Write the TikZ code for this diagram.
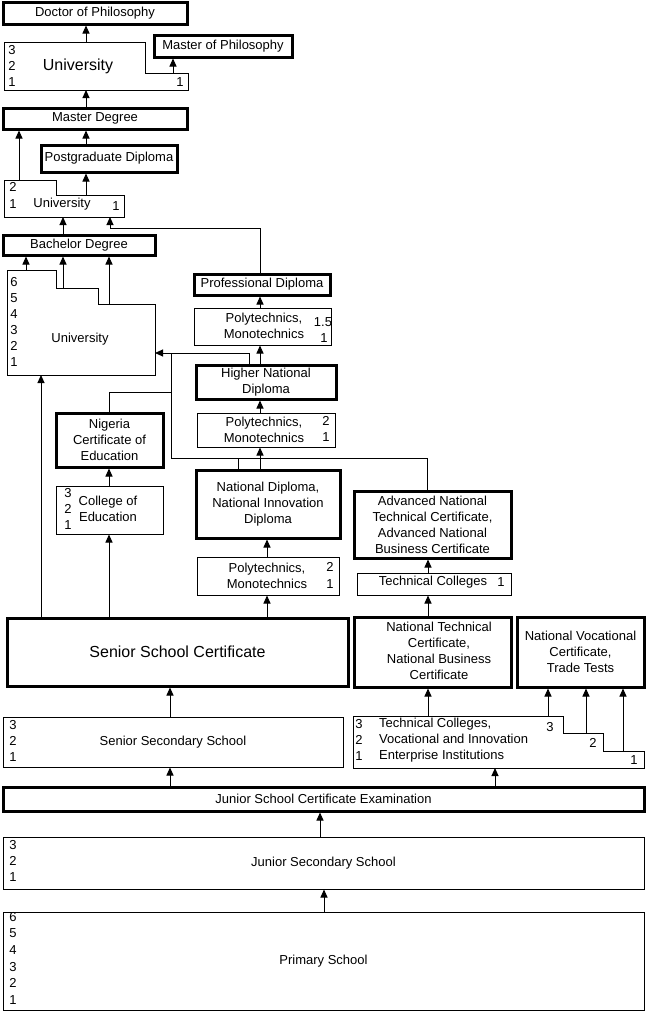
\documentclass[tikz,border=0pt]{standalone}
\usepackage{fontspec}
\setmainfont{Liberation Sans}
\usetikzlibrary{arrows.meta}
\newcommand\mybox[7]{\node[#1, minimum width={#5-#3}, minimum height={#6-#4}] (#2) at ({(#3+#5)/2},{(#4+#6)/2}) {#7};}
\begin{document}
\begin{tikzpicture}[x=1pt,y=-1pt,
  font=\fontsize{13}{16}\selectfont,
  bxn/.style={draw, line width=1pt, inner sep=0pt, align=center},
  bxk/.style={draw, line width=3pt, inner sep=0pt, align=center},
  arr/.style={line width=1pt, -{Triangle[length=8pt,width=7pt]}},
  ln/.style={line width=1pt},
  lbl/.style={inner sep=0pt, align=center},
  big/.style={font=\fontsize{16}{19}\selectfont}]
\fill[white] (0,0) rectangle (648,1012);
\useasboundingbox (0,0) rectangle (648,1012);

% ---------- boxes ----------
\mybox{bxk}{phd}{3}{2}{187}{24}{Doctor of Philosophy}
\mybox{bxk}{mphil}{154}{35}{292}{57}{Master of Philosophy}
\mybox{bxk}{md}{3}{108}{187}{129}{Master Degree}
\mybox{bxk}{pgd}{41}{145}{177}{172}{Postgraduate Diploma}
\mybox{bxk}{bd}{3}{235}{155}{255}{Bachelor Degree}
\mybox{bxk}{prof}{194}{274}{330}{295}{Professional Diploma}
\mybox{bxn}{poly1}{194}{308}{331}{345}{}
\mybox{bxk}{hnd}{196}{365}{336}{399}{Higher National\\Diploma}
\mybox{bxn}{poly2}{197}{413}{335}{447}{}
\mybox{bxk}{nce}{56}{413}{163}{467}{Nigeria\\Certificate of\\Education}
\mybox{bxn}{coe}{56}{486}{163}{534}{}
\mybox{bxk}{nd}{196}{470}{340}{538}{National Diploma,\\National Innovation\\Diploma}
\mybox{bxn}{poly3}{197}{557}{339}{595}{}
\mybox{bxk}{atc}{354}{491}{511}{558}{Advanced National\\Technical Certificate,\\Advanced National\\Business Certificate}
\mybox{bxn}{tc}{357}{573}{511}{595}{}
\mybox{bxk}{ssc}{7}{618}{348}{686}{\fontsize{16}{19}\selectfont Senior School Certificate}
\mybox{bxk}{ntc}{354}{617}{511}{687}{}
\mybox{bxk}{nvc}{517}{617}{644}{687}{National Vocational\\Certificate,\\Trade Tests}
\mybox{bxn}{sss}{3}{717}{343}{767}{Senior Secondary School}
\mybox{bxk}{jsce}{3}{787}{644}{811}{Junior School Certificate Examination}
\mybox{bxn}{jss}{3}{837}{644}{889}{Junior Secondary School}
\mybox{bxn}{prim}{3}{912}{644}{1010}{Primary School}

% ---------- irregular boxes ----------
\draw[ln] (4,42) coordinate (u1a) -- (145,42) -- (145,73) coordinate (u1s) -- (188,73) -- (188,90) coordinate (u1c) -- (4,90) -- cycle;
\draw[ln] (4,180) coordinate (u2a) -- (56,180) -- (56,195) coordinate (u2s) -- (124,195) -- (124,217) coordinate (u2c) -- (4,217) -- cycle;
\draw[ln] (7,270) coordinate (u3a) -- (56,270) -- (56,288) coordinate (u3s1) -- (98,288) -- (98,304) coordinate (u3s2) -- (155,304) -- (155,375) coordinate (u3b) -- (7,375) -- cycle;
\draw[ln] (353,716) coordinate (tvetop) -- (563,716) -- (563,733) coordinate (tves1) -- (603,733) -- (603,751) coordinate (tves2) -- (644,751) -- (644,768) coordinate (tvebot) -- (353,768) -- cycle;
\coordinate (u3r) at (155,353);
\coordinate (j1) at (110,228);
\coordinate (b1) at (171,458);
\coordinate (b2) at (171,392);

% ---------- labels ----------
\node[lbl] (u1n3) at (12,50) {3};
\node[lbl] (u1n2) at (12,66) {2};
\node[lbl] (u1n1) at (12,82) {1};
\node[lbl,big] (u1t) at (78,66) {University};
\node[lbl] (u1r) at (180,82) {1};

\node[lbl] (u2n2) at (13,187) {2};
\node[lbl] (u2n1) at (13,204) {1};
\node[lbl] (u2t) at (62,204) {University};
\node[lbl] (u2r) at (116,206) {1};

\node[lbl] (u3n6) at (14,282) {6};
\node[lbl] (u3n5) at (14,298) {5};
\node[lbl] (u3n4) at (14,314) {4};
\node[lbl] (u3n3) at (14,330) {3};
\node[lbl] (u3n2) at (14,346) {2};
\node[lbl] (u3n1) at (14,362) {1};
\node[lbl] (u3t) at (80,339) {University};

\node[lbl] (p1t) at (264,326) {Polytechnics,\\Monotechnics};
\node[lbl] (p1a) at (323,322) {1.5};
\node[lbl] (p1b) at (324,338) {1};
\node[lbl] (p2t) at (264,430) {Polytechnics,\\Monotechnics};
\node[lbl] (p2a) at (326,421) {2};
\node[lbl] (p2b) at (326,437) {1};
\node[lbl] (p3t) at (267,576) {Polytechnics,\\Monotechnics};
\node[lbl] (p3a) at (330,567) {2};
\node[lbl] (p3b) at (330,584) {1};

\node[lbl] (c3) at (68,493) {3};
\node[lbl] (c2) at (68,509) {2};
\node[lbl] (c1) at (68,525) {1};
\node[lbl] (ct) at (108,509) {College of\\Education};

\node[lbl] (tct) at (433,582) {Technical Colleges};
\node[lbl] (tcn) at (501,582) {1};
\node[lbl] (ntct) at (439,651) {National Technical\\Certificate,\\National Business\\Certificate};

\node[lbl] (tv3) at (359,724) {3};
\node[lbl] (tv2) at (359,740) {2};
\node[lbl] (tv1) at (359,756) {1};
\node[lbl, anchor=west, align=left] (tvt) at (379,740) {Technical Colleges,\\Vocational and Innovation\\Enterprise Institutions};
\node[lbl] (tr3) at (550,727) {3};
\node[lbl] (tr2) at (593,743) {2};
\node[lbl] (tr1) at (634,760) {1};

\node[lbl] (s3) at (13,725) {3};
\node[lbl] (s2) at (13,741) {2};
\node[lbl] (s1) at (13,757) {1};
\node[lbl] (j3) at (13,845) {3};
\node[lbl] (j2) at (13,861) {2};
\node[lbl] (jn1) at (13,877) {1};
\node[lbl] (pr6) at (13,917) {6};
\node[lbl] (pr5) at (13,933) {5};
\node[lbl] (pr4) at (13,950) {4};
\node[lbl] (pr3) at (13,967) {3};
\node[lbl] (pr2) at (13,983) {2};
\node[lbl] (pr1) at (13,1000) {1};

% ---------- connectors ----------
\draw[arr] (u1a -| 86,0) -- (phd.south -| 86,0);
\draw[arr] (u1s -| 173,0) -- (mphil.south -| 173,0);
\draw[arr] (md.north -| 86,0) -- (u1c -| 86,0);
\draw[arr] (pgd.north -| 86,0) -- (md.south -| 86,0);
\draw[arr] (u2a -| 19,0) -- (md.south -| 19,0);
\draw[arr] (u2s -| 86,0) -- (pgd.south -| 86,0);
\draw[arr] (bd.north -| 63,0) -- (u2c -| 63,0);
\draw[arr] (prof.north -| 260,0) |- (j1) -- (u2c -| j1);
\draw[arr] (u3a -| 26,0) -- (bd.south -| 26,0);
\draw[arr] (u3s1 -| 63,0) -- (bd.south -| 63,0);
\draw[arr] (u3s2 -| 109,0) -- (bd.south -| 109,0);
\draw[arr] (poly1.north -| 260,0) -- (prof.south -| 260,0);
\draw[arr] (hnd.north -| 260,0) -- (poly1.south -| 260,0);
\draw[arr] (hnd.north -| 249,0) |- (u3r);
\draw[ln] (nd.north -| 238,0) |- (b1) -- (b1 |- u3r);
\draw[ln] (atc.north -| 427,0) |- (b1);
\draw[ln] (nce.north -| 109,0) |- (b2);
\draw[arr] (poly2.north -| 260,0) -- (hnd.south -| 260,0);
\draw[arr] (nd.north -| 260,0) -- (poly2.south -| 260,0);
\draw[arr] (coe.north -| 109,0) -- (nce.south -| 109,0);
\draw[arr] (ssc.north -| 109,0) -- (coe.south -| 109,0);
\draw[arr] (ssc.north -| 41,0) -- (u3b -| 41,0);
\draw[arr] (poly3.north -| 267,0) -- (nd.south -| 267,0);
\draw[arr] (ssc.north -| 267,0) -- (poly3.south -| 267,0);
\draw[arr] (tc.north -| 428,0) -- (atc.south -| 428,0);
\draw[arr] (ntc.north -| 428,0) -- (tc.south -| 428,0);
\draw[arr] (tvetop -| 428,0) -- (ntc.south -| 428,0);
\draw[arr] (tvetop -| 548,0) -- (nvc.south -| 548,0);
\draw[arr] (tves1 -| 586,0) -- (nvc.south -| 586,0);
\draw[arr] (tves2 -| 623,0) -- (nvc.south -| 623,0);
\draw[arr] (sss.north -| 170,0) -- (ssc.south -| 170,0);
\draw[arr] (jsce.north -| 170,0) -- (sss.south -| 170,0);
\draw[arr] (jsce.north -| 495,0) -- (tvebot -| 495,0);
\draw[arr] (jss.north -| 320,0) -- (jsce.south -| 320,0);
\draw[arr] (prim.north -| 324,0) -- (jss.south -| 324,0);
\end{tikzpicture}
\end{document}
